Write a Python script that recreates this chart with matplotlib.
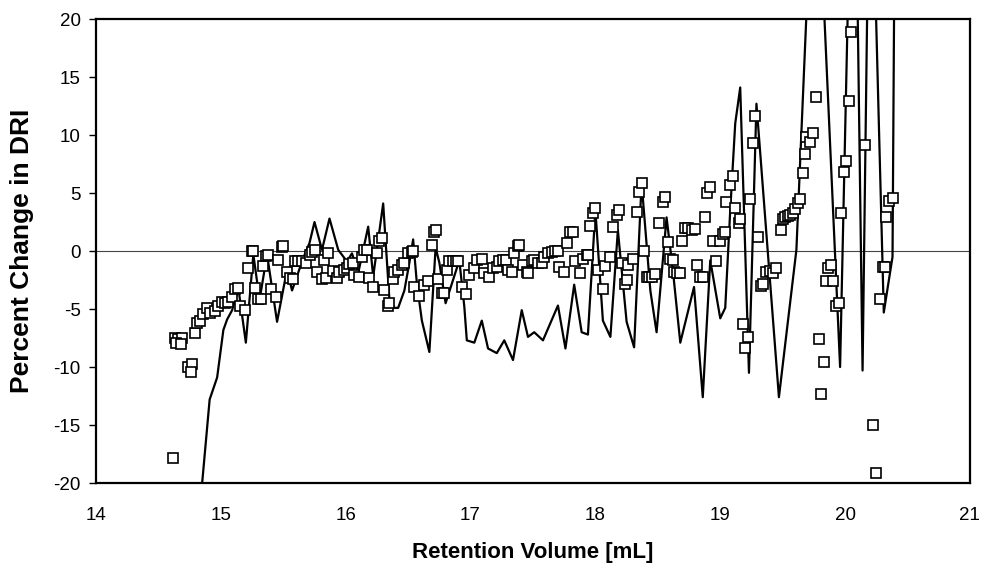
import matplotlib
matplotlib.use("Agg")
import matplotlib.pyplot as plt

plt.rcParams['font.family'] = ['Liberation Sans', 'DejaVu Sans']
plt.rcParams['axes.unicode_minus'] = False

# Measured points (squares)
pts_x = [14.62, 14.63, 14.66, 14.69, 14.64, 14.68, 14.74, 14.77, 14.76, 14.79, 14.81, 14.83,
         14.86, 14.89, 14.91, 14.95, 14.98, 15.01, 15.03, 15.06, 15.09, 15.11, 15.14, 15.15, 15.19,
         15.22, 15.25, 15.26, 15.27, 15.30, 15.32, 15.34, 15.36, 15.38, 15.40, 15.44, 15.46,
         15.49, 15.50, 15.53, 15.55, 15.58, 15.59, 15.62, 15.65, 15.68, 15.71, 15.73, 15.75,
         15.77, 15.81, 15.83, 15.86, 15.84, 15.90, 15.93, 15.95, 15.99, 16.01, 16.03, 16.06,
         16.07, 16.11, 16.13, 16.15, 16.17, 16.19, 16.22, 16.25, 16.27, 16.29, 16.31, 16.34,
         16.35, 16.38, 16.39, 16.42, 16.45, 16.47, 16.50, 16.53, 16.54, 16.55, 16.59, 16.63,
         16.66, 16.69, 16.71, 16.72, 16.74, 16.77, 16.79, 16.81, 16.83, 16.86, 16.88, 16.90,
         16.93, 16.96, 16.99, 17.03, 17.05, 17.09, 17.11, 17.15, 17.18, 17.21, 17.23, 17.26,
         17.28, 17.30, 17.33, 17.35, 17.38, 17.39, 17.42, 17.45, 17.46, 17.49, 17.51, 17.54,
         17.57, 17.59, 17.62, 17.65, 17.68, 17.70, 17.71, 17.75, 17.77, 17.80, 17.82, 17.84,
         17.88, 17.90, 17.93, 17.94, 17.96, 17.98, 18.00, 18.02, 18.06, 18.08, 18.12, 18.14,
         18.17, 18.19, 18.21, 18.24, 18.25, 18.26, 18.30, 18.33, 18.35, 18.37, 18.39, 18.41,
         18.43, 18.45, 18.48, 18.51, 18.54, 18.56, 18.58, 18.60, 18.62, 18.63, 18.65, 18.68,
         18.69, 18.72, 18.74, 18.77, 18.80, 18.81, 18.84, 18.86, 18.88, 18.89, 18.92, 18.94,
         18.97, 19.00, 19.02, 19.04, 19.05, 19.08, 19.10, 19.12, 19.15, 19.16, 19.18, 19.20,
         19.22, 19.24, 19.26, 19.28, 19.30, 19.33, 19.34, 19.37, 19.40, 19.42, 19.45, 19.49,
         19.50, 19.52, 19.54, 19.56, 19.58, 19.60, 19.62, 19.64, 19.66, 19.68, 19.69, 19.72,
         19.74, 19.77, 19.79, 19.81, 19.83, 19.85, 19.86, 19.89, 19.90, 19.93, 19.95, 19.97,
         19.99, 20.01, 20.03, 20.05, 20.16, 20.22, 20.25, 20.28, 20.30, 20.32, 20.33, 20.35,
         20.38]
pts_y = [-17.8, -7.5, -7.6, -7.5, -7.9, -8.0, -10.0, -9.7, -10.4, -7.1, -6.2, -6.0,
         -5.4, -4.9, -5.3, -5.2, -4.7, -4.4, -4.5, -4.4, -4.0, -3.3, -3.2, -4.7, -5.1,
         -1.5, 0.0, 0.0, -3.2, -4.1, -4.1, -1.3, -0.4, -0.3, -3.3, -4.0, -0.8,
         0.35, 0.4, -1.8, -2.3, -2.4, -0.9, -0.9, -0.9, -1.0, -0.3, -0.1, 0.1,
         -1.8, -2.4, -0.8, -0.2, -2.3, -1.7, -2.3, -1.8, -1.6, -1.5, -1.1, -1.0,
         -2.1, -2.2, -0.5, 0.1, 0.1, -2.3, -3.1, -0.2, 0.9, 1.1, -3.4, -4.7,
         -4.5, -2.4, -1.8, -1.6, -1.2, -1.0, -0.2, -0.1, 0.0, -3.1, -3.9, -2.9,
         -2.6, 0.5, 1.6, 1.8, -2.4, -3.6, -3.6, -1.6, -0.9, -0.9, -0.9, -0.9,
         -3.1, -3.7, -2.1, -1.5, -0.8, -0.7, -1.9, -2.2, -1.5, -1.4, -0.9, -0.8,
         -0.8, -1.6, -1.8, -0.2, 0.4, 0.5, -1.2, -1.8, -1.9, -0.9, -0.8, -1.0,
         -1.0, -0.5, -0.2, -0.1, 0.0, 0.0, -1.4, -1.8, 0.7, 1.6, 1.6, -0.9,
         -1.9, -0.7, -0.3, -0.3, 2.2, 3.3, 3.7, -1.6, -3.3, -1.3, -0.5, 2.1,
         3.1, 3.5, -1.0, -2.8, -2.5, -1.2, -0.7, 3.4, 5.1, 5.9, 0.0, -2.2,
         -2.2, -2.2, -2.0, 2.4, 4.2, 4.7, 0.8, -0.7, -0.8, -1.8, -1.9, -1.9,
         0.9, 2.0, 2.0, 1.8, 1.9, -1.2, -2.2, -2.2, 2.9, 5.0, 5.5, 0.9,
         -0.9, 0.9, 1.5, 1.6, 4.2, 5.7, 6.5, 3.7, 2.4, 2.8, -6.3, -8.4,
         -7.4, 4.5, 9.3, 11.6, 1.2, -3.0, -2.8, -1.8, -1.7, -1.9, -1.5, 1.8,
         2.8, 2.9, 3.0, 3.1, 3.3, 3.6, 4.1, 4.5, 6.7, 8.4, 9.8, 9.4,
         10.2, 13.3, -7.6, -12.3, -9.6, -2.6, -1.5, -1.2, -2.6, -4.7, -4.5, 3.3,
         6.8, 7.8, 12.9, 18.9, 9.1, -15.0, -19.1, -4.1, -1.4, -1.4, 2.9, 4.3,
         4.6]

# Calculated curve (line)
line_x = [14.85, 14.89, 14.91, 14.97, 15.02, 15.05, 15.09, 15.13, 15.14, 15.20, 15.26, 15.31,
          15.37, 15.45, 15.53, 15.57, 15.66, 15.71, 15.75, 15.81, 15.87, 15.94, 16.01, 16.05,
          16.10, 16.18, 16.22, 16.30, 16.35, 16.39, 16.42, 16.47, 16.51, 16.54, 16.57, 16.61,
          16.67, 16.72, 16.75, 16.80, 16.91, 16.95, 16.97, 17.03, 17.09, 17.14, 17.21, 17.27,
          17.34, 17.41, 17.46, 17.51, 17.58, 17.70, 17.76, 17.83, 17.89, 17.94, 18.00, 18.06,
          18.12, 18.18, 18.25, 18.31, 18.37, 18.44, 18.49, 18.57, 18.62, 18.68, 18.79, 18.86,
          18.92, 19.00, 19.04, 19.08, 19.12, 19.16, 19.23, 19.29, 19.47, 19.61, 19.76, 19.96,
          20.07, 20.14, 20.20, 20.31, 20.38, 20.395]
line_y = [-20.0, -15.2, -12.8, -10.9, -6.8, -5.9, -5.1, -3.6, -3.2, -7.9, -0.3, -4.2,
          -0.3, -6.1, -1.6, -3.4, -0.6, 0.7, 2.5, 0.1, 2.8, 0.1, -0.9, -0.2,
          -1.9, 2.1, -2.2, 4.1, -4.2, -4.9, -4.9, -3.4, -1.0, 1.0, -2.8, -6.0,
          -8.7, 0.3, -1.0, -4.5, -0.8, -4.8, -7.7, -7.9, -6.0, -8.4, -8.8, -7.7,
          -9.4, -5.1, -7.4, -7.0, -7.7, -4.7, -8.4, -2.9, -7.0, -7.2, 3.5, -6.0,
          -7.4, 1.8, -6.1, -8.3, 5.9, -3.4, -7.0, 2.9, -1.6, -7.9, -3.1, -12.6,
          -0.8, -5.8, -4.9, 3.5, 11.0, 14.1, -10.5, 12.7, -12.6, 0.1, 38.0, -10.0,
          45.0, -10.3, 40.0, -5.3, -0.5, 25.0]

x_ticks = [14, 15, 16, 17, 18, 19, 20, 21]
y_ticks = [-20, -15, -10, -5, 0, 5, 10, 15, 20]

fig = plt.figure(figsize=(9.83, 5.68), dpi=100)
ax = fig.add_axes([0.0977, 0.1496, 0.889, 0.8169])

ax.axhline(0, color='#444444', lw=0.8, zorder=1)
ax.plot(line_x, line_y, color='black', lw=1.6, zorder=2)
ax.plot(pts_x, pts_y, linestyle='none', marker='s', markersize=6.8,
        markerfacecolor='white', markeredgecolor='black', markeredgewidth=1.2, zorder=3)

ax.set_xlim(14, 21)
ax.set_ylim(-20, 20)
ax.set_xticks(x_ticks)
ax.set_yticks(y_ticks)
ax.tick_params(axis='x', length=0, pad=17, labelsize=13.5)
ax.tick_params(axis='y', length=5, width=1, direction='out', pad=6, labelsize=13.5)
for s in ax.spines.values():
    s.set_linewidth(1.6)

ax.set_xlabel('Retention Volume [mL]', fontsize=16, fontweight='bold', labelpad=13)
ax.set_ylabel('Percent Change in DRI', fontsize=19, fontweight='bold', labelpad=14)

fig.savefig('out.png', dpi=100)
